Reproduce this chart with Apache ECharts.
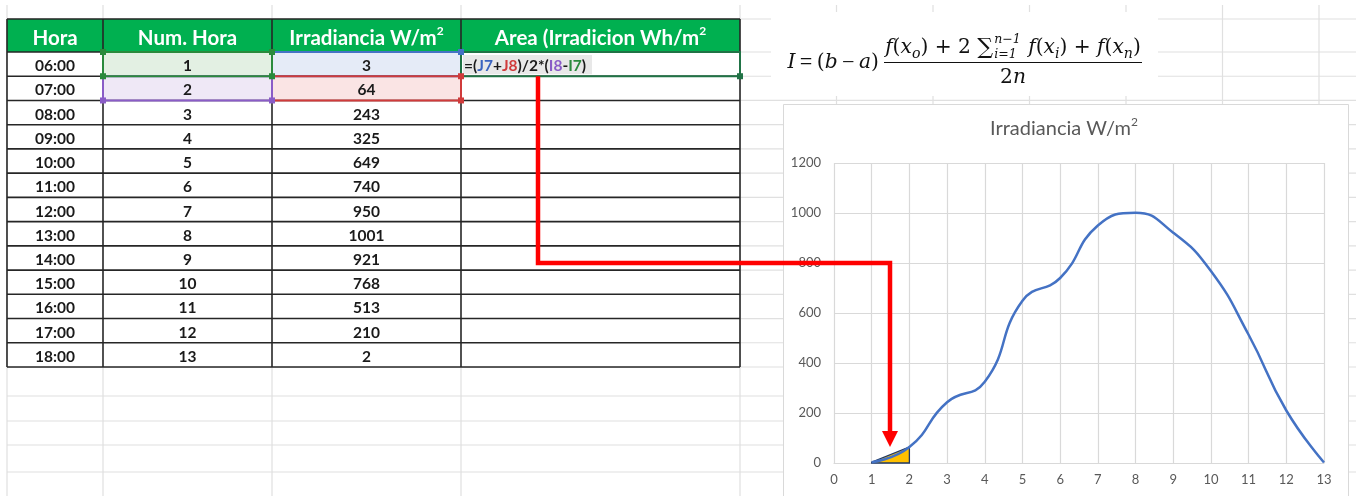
<!DOCTYPE html>
<html>
<head>
<meta charset="utf-8">
<script src="https://cdn.jsdelivr.net/npm/echarts@6/dist/echarts.min.js"></script>
<style>
  html, body { margin: 0; padding: 0; background: #ffffff; }
  #main { width: 1356px; height: 496px; }
</style>
</head>
<body>
<div id="main"></div>
<script>
// ---- data ----
const horas = ['06:00', '07:00', '08:00', '09:00', '10:00', '11:00', '12:00',
               '13:00', '14:00', '15:00', '16:00', '17:00', '18:00'];
const numHora = [1, 2, 3, 4, 5, 6, 7, 8, 9, 10, 11, 12, 13];
const irradiancia = [3, 64, 243, 325, 649, 740, 950, 1001, 921, 768, 513, 210, 2];
const encabezados = ['Hora', 'Num. Hora', 'Irradiancia W/m', 'Area (Irradicion Wh/m'];
const encabezadoSup = ['', '', '2', '2'];
const tituloGrafico = 'Irradiancia W/m';
// formula in the active cell, split by reference colour
const formulaCelda = [
  ['=(', '#1a1a1a'], ['J7', '#3b64c0'], ['+', '#1a1a1a'], ['J8', '#d03b3b'],
  [')/2*(', '#1a1a1a'], ['I8', '#8a5cc7'], ['-', '#1a1a1a'], ['I7', '#2a8a3c'], [')', '#1a1a1a']
];
const ejeX = { min: 0, max: 13, interval: 1 };
const ejeY = { min: 0, max: 1200, interval: 200 };

// ---- sheet geometry ----
const colX = [7, 103, 272, 461, 740];
const sheetCols = [7, 103, 272, 461, 740, 836.5, 933, 1029.5, 1126, 1222.5, 1319];
const headTop = 19, headBot = 52;
const rowH = (367 - 52) / 13;
const sheetRows = [19, 52];
for (let i = 1; i <= 13; i++) sheetRows.push(52 + i * rowH);
sheetRows.push(396, 421, 445, 472);

const GRID_COLOR = '#e0e0e0';
const BORDER = '#262626';
const FONT = 'Lato, "Open Sans", "Liberation Sans", sans-serif';

const els = [];
let zc = 0;
function add(el, z) { el.z = z; el.z2 = zc++; el.silent = true; els.push(el); }

// spreadsheet gridlines
sheetCols.forEach(x => add({ type: 'line', shape: { x1: x, y1: 5, x2: x, y2: 496 },
  style: { stroke: GRID_COLOR, lineWidth: 1.2 } }, -5));
sheetRows.forEach(y => add({ type: 'line', shape: { x1: 7, y1: y, x2: 1356, y2: y },
  style: { stroke: GRID_COLOR, lineWidth: 1.2 } }, -5));

// white equation panel and chart area
add({ type: 'rect', shape: { x: 771, y: 12, width: 387, height: 84 }, style: { fill: '#ffffff' } }, -4);
add({ type: 'rect', shape: { x: 783.5, y: 104.5, width: 565, height: 420 },
  style: { fill: '#ffffff', stroke: '#d9d9d9', lineWidth: 1 } }, -4);

// table header and body
add({ type: 'rect', shape: { x: 7, y: headTop, width: 733, height: headBot - headTop }, style: { fill: '#00b050' } }, -3);
add({ type: 'rect', shape: { x: 7, y: headBot, width: 733, height: 367 - headBot }, style: { fill: '#ffffff' } }, -3);

// highlighted reference cells
const r0 = headBot, r1 = headBot + rowH, r2 = headBot + 2 * rowH;
add({ type: 'rect', shape: { x: 103, y: r0, width: 169, height: rowH }, style: { fill: '#e3f0e3' } }, -3);
add({ type: 'rect', shape: { x: 272, y: r0, width: 189, height: rowH }, style: { fill: '#e5ebf7' } }, -3);
add({ type: 'rect', shape: { x: 103, y: r1, width: 169, height: rowH }, style: { fill: '#efe8f6' } }, -3);
add({ type: 'rect', shape: { x: 272, y: r1, width: 189, height: rowH }, style: { fill: '#fae4e4' } }, -3);
// selected text in the formula cell
add({ type: 'rect', shape: { x: 463, y: r0 + 3, width: 129, height: rowH - 5 }, style: { fill: '#e8e8e8' } }, -3);

// table rules
for (let i = 0; i <= 13; i++) {
  const y = headBot + i * rowH;
  add({ type: 'line', shape: { x1: 7, y1: y, x2: 740, y2: y }, style: { stroke: BORDER, lineWidth: 1.6 } }, -3);
}
add({ type: 'line', shape: { x1: 7, y1: headTop, x2: 740, y2: headTop }, style: { stroke: BORDER, lineWidth: 1.6 } }, -3);
colX.forEach(x => add({ type: 'line', shape: { x1: x, y1: headTop, x2: x, y2: 367 },
  style: { stroke: BORDER, lineWidth: 1.6 } }, -3));

// reference borders
function box(x, y, w, h, c) {
  add({ type: 'rect', shape: { x: x, y: y, width: w, height: h }, style: { fill: null, stroke: c, lineWidth: 2 } }, -3);
}
function handle(x, y, c) {
  add({ type: 'rect', shape: { x: x - 3, y: y - 3, width: 6, height: 6 }, style: { fill: c } }, -3);
}
box(272, r0, 189, rowH, '#4472c4');
box(272, r1, 189, rowH, '#d03b3b');
box(103, r1, 169, rowH, '#8a5cc7');
box(103, r0, 169, rowH, '#2a8a3c');
box(461, r0, 279, rowH, '#217346');
handle(103, r0, '#2a8a3c'); handle(272, r0, '#2a8a3c');
handle(103, r1, '#2a8a3c'); handle(272, r1, '#2a8a3c');
handle(461, r0, '#4472c4');
handle(461, r1, '#d03b3b'); handle(461, r2, '#d03b3b');
handle(103, r2, '#8a5cc7'); handle(272, r2, '#8a5cc7');
handle(740, r1, '#217346');

// header texts
encabezados.forEach((t, i) => {
  const cx = (colX[i] + colX[i + 1]) / 2;
  const txt = encabezadoSup[i] ? '{a|' + t + '}{s|' + encabezadoSup[i] + '}' : '{a|' + t + '}';
  add({ type: 'text', x: cx, y: 38, style: {
    text: txt, align: 'center', verticalAlign: 'middle',
    rich: {
      a: { font: 'bold 20.5px ' + FONT, fill: '#ffffff', lineHeight: 26 },
      s: { font: 'bold 12px ' + FONT, fill: '#ffffff', verticalAlign: 'top', lineHeight: 12 }
    } } }, -2);
});

// body texts
for (let i = 0; i < horas.length; i++) {
  const cy = headBot + i * rowH + rowH / 2 + 2;
  const vals = [horas[i], String(numHora[i]), String(irradiancia[i])];
  vals.forEach((v, c) => {
    add({ type: 'text', x: (colX[c] + colX[c + 1]) / 2, y: cy, style: {
      text: v, font: 'bold 15.5px ' + FONT, fill: '#1a1a1a', align: 'center', verticalAlign: 'middle' } }, -2);
  });
}
// formula cell text
add({ type: 'text', x: 464, y: r0 + rowH / 2 + 2, style: {
  text: formulaCelda.map((p, i) => '{f' + i + '|' + p[0] + '}').join(''),
  align: 'left', verticalAlign: 'middle',
  rich: Object.fromEntries(formulaCelda.map((p, i) => ['f' + i, { font: 'bold 15.5px ' + FONT, fill: p[1] }]))
} }, -2);

// ---- trapezoid-rule equation ----
const ctx = document.createElement('canvas').getContext('2d');
function tw(s, f) { ctx.font = f; return ctx.measureText(s).width; }
const SERIF = '"DejaVu Serif", "Liberation Serif", serif';
const OPS = '"Liberation Serif", serif';
let FS = 19;
function fnt(it, size, fam) { return (it ? 'italic ' : '') + size.toFixed(2) + 'px ' + (fam || SERIF); }
function run(pieces, x0, cy) {
  let x = x0; const out = [];
  pieces.forEach(p => {
    if (p.lim) {
      const s = FS * 0.62;
      const w = Math.max(tw(p.sup, fnt(true, s)), tw(p.sub, fnt(true, s)));
      out.push({ t: p.sup, f: fnt(true, s), x: x + 1, y: cy - FS * 0.42 });
      out.push({ t: p.sub, f: fnt(true, s), x: x + 1, y: cy + FS * 0.32 });
      x += w + 2; return;
    }
    const size = p.sub ? FS * 0.7 : (p.big ? FS * 1.1 : (p.op ? FS * 1.1 : FS));
    const f = fnt(p.it, size, p.op ? OPS : null);
    out.push({ t: p.t, f: f, x: x, y: cy + (p.sub ? FS * 0.3 : 0) });
    x += tw(p.t, f);
  });
  return { out: out, w: x - x0 };
}
const numer = [
  { t: 'f', it: 1 }, { t: '(' }, { t: 'x', it: 1 }, { t: 'o', it: 1, sub: 1 }, { t: ')' },
  { t: ' + 2 ' }, { t: '\u2211', big: 1 }, { lim: 1, sup: 'n\u22121', sub: 'i=1' }, { t: ' ' },
  { t: 'f', it: 1 }, { t: '(' }, { t: 'x', it: 1 }, { t: 'i', it: 1, sub: 1 }, { t: ')' },
  { t: ' + ' }, { t: 'f', it: 1 }, { t: '(' }, { t: 'x', it: 1 }, { t: 'n', it: 1, sub: 1 }, { t: ')' }
];
const lhs = [{ t: 'I', it: 1 }, { t: '\u2009=\u2009', op: 1 }, { t: '(' }, { t: 'b', it: 1 },
             { t: '\u2009\u2212\u2009', op: 1 }, { t: 'a', it: 1 }, { t: ')' }];
const denom = [{ t: '2' }, { t: 'n', it: 1 }];
// fit the numerator to the fraction width
const fracL = 884, fracR = 1142, fracCx = (fracL + fracR) / 2, barY = 62.5;
FS = FS * (fracR - fracL - 2) / run(numer, 0, 0).w;
const nmR = run(numer, fracCx - run(numer, 0, 0).w / 2, 48);
const dnR = run(denom, fracCx - run(denom, 0, 0).w / 2, 78);
const lhR = run(lhs, fracL - 5 - run(lhs, 0, 0).w, 63);
[nmR, dnR, lhR].forEach(r => r.out.forEach(o => add({ type: 'text', x: o.x, y: o.y, style: {
  text: o.t, font: o.f, fill: '#111111', align: 'left', verticalAlign: 'middle' } }, -2)));
add({ type: 'line', shape: { x1: fracL, y1: barY, x2: fracR, y2: barY },
  style: { stroke: '#111111', lineWidth: 1.2 } }, -2);

// chart title
add({ type: 'text', x: 1064, y: 129, style: {
  text: '{a|' + tituloGrafico + '}{s|2}', align: 'center', verticalAlign: 'middle',
  rich: {
    a: { font: '20px ' + FONT, fill: '#595959', lineHeight: 26 },
    s: { font: '12px ' + FONT, fill: '#595959', verticalAlign: 'top', lineHeight: 14 }
  } } }, 1);

// red pointer from the formula cell to the first trapezoid
add({ type: 'polyline', shape: { points: [[538, r1], [538, 263], [890, 263], [890, 433]] },
  style: { stroke: '#ff0000', lineWidth: 4.5, fill: null, lineJoin: 'miter' } }, 20);
add({ type: 'polygon', shape: { points: [[882, 431], [898, 431], [890, 447]] },
  style: { fill: '#ff0000' } }, 20);

// ---- chart ----
const puntos = numHora.map((x, i) => [x, irradiancia[i]]);
const trapecio = [[numHora[0], 0, irradiancia[0]], [numHora[1], 0, irradiancia[1]]];

const chart = echarts.init(document.getElementById('main'), null, { renderer: 'canvas' });
chart.setOption({
  animation: false,
  graphic: { elements: els },
  grid: { left: 834, top: 163, width: 490, height: 300, containLabel: false },
  xAxis: {
    type: 'value', min: ejeX.min, max: ejeX.max, interval: ejeX.interval,
    axisLine: { show: true, lineStyle: { color: '#d9d9d9', width: 1.2 } },
    axisTick: { show: false },
    splitLine: { show: true, lineStyle: { color: '#d9d9d9', width: 1.2 } },
    axisLabel: { color: '#595959', fontSize: 13, fontFamily: FONT, margin: 10, formatter: v => String(v) }
  },
  yAxis: {
    type: 'value', min: ejeY.min, max: ejeY.max, interval: ejeY.interval,
    axisLine: { show: false }, axisTick: { show: false },
    splitLine: { show: true, lineStyle: { color: '#d9d9d9', width: 1.2 } },
    axisLabel: { color: '#595959', fontSize: 13, fontFamily: FONT, margin: 13, formatter: v => String(v) }
  },
  series: [
    {
      type: 'custom', z: 1, silent: true,
      data: [0],
      renderItem: function (params, api) {
        const a = trapecio[0], b = trapecio[1];
        const pts = [api.coord([a[0], a[1]]), api.coord([a[0], a[2]]),
                     api.coord([b[0], b[2]]), api.coord([b[0], b[1]])];
        return { type: 'polygon', shape: { points: pts },
          style: { fill: '#ffc000', stroke: '#203864', lineWidth: 1.3 } };
      }
    },
    {
      type: 'line', z: 3, data: puntos, smooth: 0.5, showSymbol: false, silent: true,
      lineStyle: { color: '#4472c4', width: 2.5 }
    }
  ]
});
</script>
</body>
</html>
